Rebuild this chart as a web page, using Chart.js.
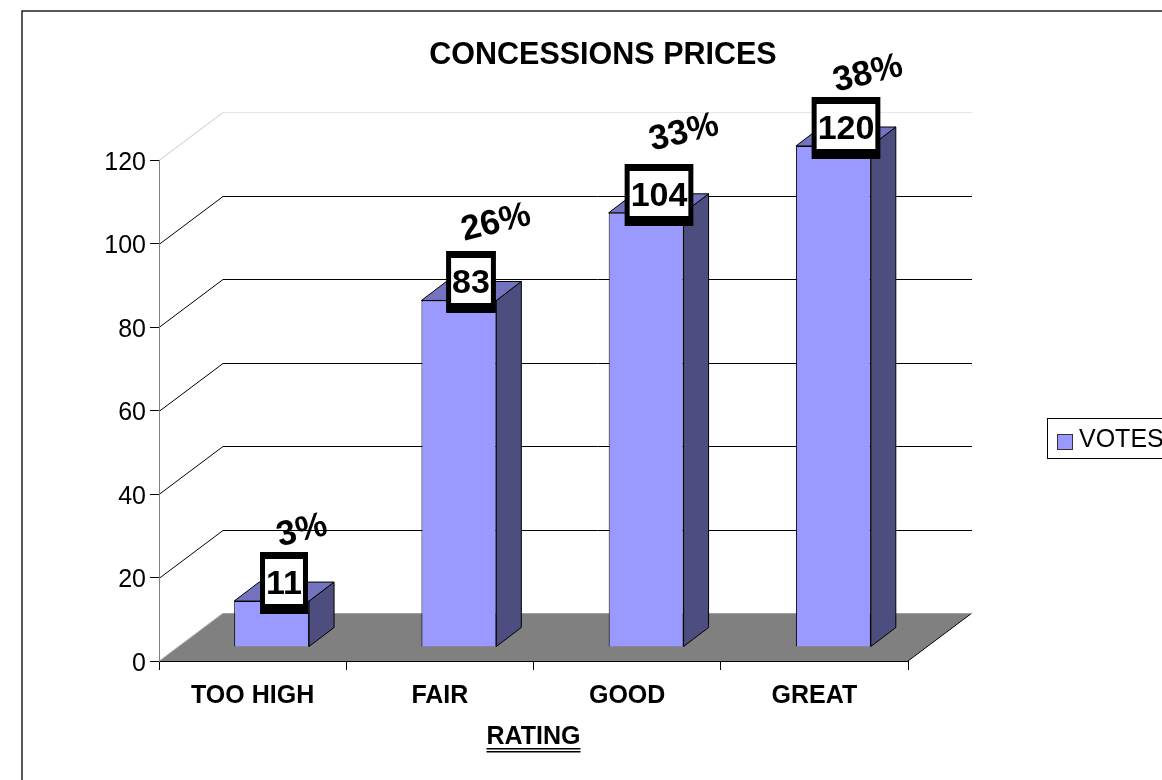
<!DOCTYPE html>
<html>
<head>
<meta charset="utf-8">
<title>Concessions Prices</title>
<script src="https://cdn.jsdelivr.net/npm/chart.js@4"></script>
<style>
  html, body { margin: 0; padding: 0; background: #fff; overflow: hidden; }
  #wrap { width: 1162px; height: 780px; }
</style>
</head>
<body>
<div id="wrap"><canvas id="chart" width="1162" height="780"></canvas></div>
<script>
const categories = ["TOO HIGH", "FAIR", "GOOD", "GREAT"];
const votes = [11, 83, 104, 120];
const percentLabels = ["3%", "26%", "33%", "38%"];
const yTicks = [0, 20, 40, 60, 80, 100, 120];

// fake 3D: how far the back wall sits from the front of the plot, and how deep a bar is
const wallDx = 64, wallDy = -48;
const barDx = 19, barDy = -14;
const sideDx = 25, sideDy = -19;
const percentShift = [[18, -52], [25, -59], [25, -62], [22, -54]];

const FONT = "'Liberation Sans', Arial, sans-serif";

const threeD = {
  id: "threeD",
  beforeDraw(chart) {
    const c = chart.ctx, a = chart.chartArea, y = chart.scales.y;
    c.save();
    // outer frame, runs off the page like the original
    c.strokeStyle = "#222";
    c.lineWidth = 1.5;
    c.strokeRect(22, 11, 1300, 1000);
    c.lineWidth = 1;
    // wall gridlines
    yTicks.forEach(v => {
      if (v === 0) return;
      const py = Math.round(y.getPixelForValue(v)) + 0.5;
      const top = v === yTicks[yTicks.length - 1];
      c.strokeStyle = top ? "#c8c8c8" : "#000";
      c.beginPath();
      c.moveTo(a.left, py);
      c.lineTo(a.left + wallDx, py + wallDy);
      c.stroke();
      c.strokeStyle = top ? "#e6e6e6" : "#000";
      c.beginPath();
      c.moveTo(a.left + wallDx, py + wallDy);
      c.lineTo(a.right + wallDx, py + wallDy);
      c.stroke();
    });
    // floor
    c.fillStyle = "#808080";
    c.beginPath();
    c.moveTo(a.left, a.bottom);
    c.lineTo(a.left + wallDx, a.bottom + wallDy);
    c.lineTo(a.right + wallDx, a.bottom + wallDy);
    c.lineTo(a.right, a.bottom);
    c.closePath();
    c.fill();
    c.strokeStyle = "#000";
    c.beginPath();
    c.moveTo(a.right, a.bottom);
    c.lineTo(a.right + wallDx, a.bottom + wallDy);
    c.stroke();
    c.strokeStyle = "#c8c8c8";
    c.beginPath();
    c.moveTo(a.left, a.bottom);
    c.lineTo(a.left + wallDx, a.bottom + wallDy);
    c.stroke();
    c.strokeStyle = "#a0a0a0";
    c.beginPath();
    c.moveTo(a.left + wallDx, a.bottom + wallDy + 0.5);
    c.lineTo(a.right + wallDx, a.bottom + wallDy + 0.5);
    c.stroke();
    c.restore();
  },
  beforeDatasetsDraw(chart) {
    const c = chart.ctx;
    c.save();
    // side and top faces sit behind the native front face
    chart.getDatasetMeta(0).data.forEach(el => {
      const l = el.x - el.width / 2 + barDx, r = el.x + el.width / 2 + barDx;
      const t = el.y + barDy, b = el.base + barDy;
      c.lineWidth = 1;
      c.strokeStyle = "#000";
      c.fillStyle = "#4d4d80";
      c.beginPath();
      c.moveTo(r, t);
      c.lineTo(r + sideDx, t + sideDy);
      c.lineTo(r + sideDx, b + sideDy);
      c.lineTo(r, b);
      c.closePath();
      c.fill();
      c.stroke();
      c.fillStyle = "#7373bf";
      c.beginPath();
      c.moveTo(l, t);
      c.lineTo(l + sideDx, t + sideDy);
      c.lineTo(r + sideDx, t + sideDy);
      c.lineTo(r, t);
      c.closePath();
      c.fill();
      c.stroke();
    });
    c.restore();
    // the front face is pushed back from the axis plane
    c.save();
    c.translate(barDx, barDy);
  },
  afterDatasetsDraw(chart) {
    const c = chart.ctx;
    c.restore();
    c.save();
    chart.getDatasetMeta(0).data.forEach((el, i) => {
      const cx = Math.round(el.x + barDx + sideDx / 2);
      const cy = Math.round(el.y + barDy + sideDy + 1);
      const text = String(votes[i]);
      c.font = "bold 34px " + FONT;
      const w = c.measureText(text).width;
      // black frame with white inside, thicker at the bottom
      c.fillStyle = "#000";
      c.fillRect(cx - w / 2 - 6, cy - 31, w + 12, 62);
      c.fillStyle = "#fff";
      c.fillRect(cx - w / 2 - 1, cy - 24, w + 2, 45);
      c.fillStyle = "#000";
      c.textAlign = "center";
      c.textBaseline = "middle";
      c.fillText(text, cx, cy + 2);
      // rotated share label above the box
      c.save();
      c.translate(cx + percentShift[i][0], cy + percentShift[i][1]);
      c.rotate(-14 * Math.PI / 180);
      c.font = "bold 35px " + FONT;
      c.fillText(percentLabels[i], 0, 0);
      c.restore();
    });
    c.restore();
  },
  afterDraw(chart) {
    const c = chart.ctx;
    c.save();
    c.fillStyle = "#000";
    c.textAlign = "center";
    c.textBaseline = "middle";
    c.font = "bold 30.5px " + FONT;
    c.fillText("CONCESSIONS PRICES", 603, 56);
    // axis title has a double underline
    const xs = chart.scales.x;
    const mid = (xs.left + xs.right) / 2;
    c.font = "bold 25px " + FONT;
    const tw = c.measureText("RATING").width;
    c.fillRect(mid - tw / 2, 748, tw, 1.5);
    c.fillRect(mid - tw / 2, 751, tw, 1.5);
    // legend box
    c.strokeStyle = "#000";
    c.lineWidth = 1;
    c.strokeRect(1047.5, 418.5, 200, 40);
    c.fillStyle = "#9999ff";
    c.fillRect(1057, 434, 15, 15);
    c.strokeStyle = "#333";
    c.strokeRect(1057.5, 434.5, 15, 15);
    c.fillStyle = "#000";
    c.textAlign = "left";
    c.font = "25px " + FONT;
    c.fillText(chart.data.datasets[0].label, 1079, 440);
    c.restore();
  }
};

new Chart(document.getElementById("chart"), {
  type: "bar",
  data: {
    labels: categories,
    datasets: [{
      label: "VOTES",
      data: votes,
      backgroundColor: "#9999ff",
      borderColor: "#000",
      borderWidth: 1,
      barPercentage: 0.4,
      categoryPercentage: 1,
      clip: false
    }]
  },
  options: {
    responsive: false,
    animation: false,
    layout: { padding: { left: 18, top: 160, right: 254, bottom: 28 } },
    plugins: { legend: { display: false }, title: { display: false }, tooltip: { enabled: false } },
    scales: {
      x: {
        afterFit(s) { s.height = 91; },
        border: { color: "#000", width: 1 },
        grid: { drawOnChartArea: false, tickLength: 9, color: "#000", offset: true },
        ticks: { color: "#000", padding: 11, font: { family: FONT, size: 25, weight: "bold" }, maxRotation: 0 },
        title: { display: true, text: "RATING", color: "#000", font: { family: FONT, size: 25, weight: "bold" }, padding: 0 }
      },
      y: {
        min: 0,
        max: 120,
        afterFit(s) { s.width = 141; },
        border: { color: "#808080", width: 1 },
        grid: { drawOnChartArea: false, tickLength: 9, color: "#000" },
        ticks: { color: "#000", padding: 4, stepSize: 20, labelOffset: 3, font: { family: FONT, size: 25 } }
      }
    }
  },
  plugins: [threeD]
});
</script>
</body>
</html>
